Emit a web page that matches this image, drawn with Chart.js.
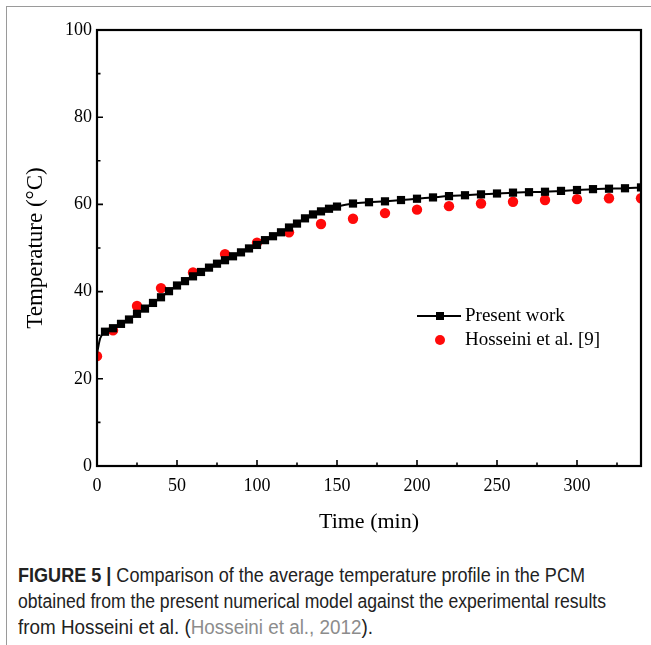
<!DOCTYPE html>
<html><head><meta charset="utf-8">
<script src="https://cdn.jsdelivr.net/npm/chart.js@4.4.0/dist/chart.umd.min.js"></script>
<style>
html,body{margin:0;padding:0;background:#fff;width:651px;height:645px;overflow:hidden;}
#frameTop{position:absolute;left:7px;top:6px;width:644px;height:0;border-top:1.5px solid #9a9a9a;}
#frameLeft{position:absolute;left:6px;top:6px;width:0;height:639px;border-left:1.5px solid #9a9a9a;}
#c{position:absolute;left:0;top:0;}
#cap{position:absolute;left:18px;top:562px;font-family:"Liberation Sans",Arial,sans-serif;font-size:20px;line-height:26px;color:#222;white-space:nowrap;}
#cap span.l{display:inline-block;transform-origin:0 50%;}
#cap b{font-weight:bold;}
.g{color:#8c8c8c;}
</style></head><body>
<div id="frameTop"></div><div id="frameLeft"></div>
<canvas id="c" width="651" height="548"></canvas>
<div id="cap"><span class="l"><b>FIGURE 5 |</b> Comparison of the average temperature profile in the PCM</span><br><span class="l">obtained from the present numerical model against the experimental results</span><br><span class="l">from Hosseini et al. (<span class="g">Hosseini et al., 2012</span>).</span></div>
<script>
// ---- data ----
const presentTime = [0, 2, 5, 10, 15, 20, 25, 30, 35, 40, 45, 50, 55, 60, 65, 70, 75, 80, 85, 90, 95, 100, 105, 110, 115, 120, 125, 130, 135, 140, 145, 150, 160, 170, 180, 190, 200, 210, 220, 230, 240, 250, 260, 270, 280, 290, 300, 310, 320, 330, 340];
const presentTemp = [25.8, 29.3, 30.8, 31.6, 32.6, 33.6, 34.9, 36.1, 37.4, 38.7, 40.1, 41.4, 42.4, 43.5, 44.5, 45.5, 46.4, 47.2, 48.1, 49.0, 49.9, 50.7, 51.8, 52.7, 53.6, 54.7, 55.6, 56.8, 57.7, 58.4, 59.0, 59.5, 60.2, 60.5, 60.7, 61.0, 61.3, 61.6, 61.9, 62.1, 62.3, 62.5, 62.7, 62.8, 62.9, 63.1, 63.3, 63.5, 63.6, 63.7, 63.9];
const hosseiniTime = [0, 10, 25, 40, 60, 80, 100, 120, 140, 160, 180, 200, 220, 240, 260, 280, 300, 320, 340];
const hosseiniTemp = [25.2, 31.1, 36.7, 40.8, 44.4, 48.6, 51.2, 53.6, 55.5, 56.7, 58.0, 58.8, 59.6, 60.2, 60.6, 61.0, 61.2, 61.4, 61.4];
const xMajorTicks = [0, 50, 100, 150, 200, 250, 300];
const xMinorTicks = [25, 75, 125, 175, 225, 275, 325];
const yMajorTicks = [0, 20, 40, 60, 80, 100];
const yMinorTicks = [10, 30, 50, 70, 90];
const seriesLabels = ['Present work', 'Hosseini et al. [9]'];
const xTitle = 'Time (min)';
const yTitle = 'Temperature (\u00B0C)';

const SERIF = '"Liberation Serif","Times New Roman",serif';

// condense each caption line to the reference's narrow face
(function () {
  const targets = [567, 588, 355];
  document.querySelectorAll('#cap span.l').forEach((el, i) => {
    const w = el.getBoundingClientRect().width;
    if (w > 0) el.style.transform = 'scaleX(' + (targets[i] / w) + ')';
  });
})();

const framePlugin = {
  id: 'frameTicks',
  afterDatasetsDraw(chart) {
    const {ctx, chartArea: a, scales: {x, y}} = chart;
    ctx.save();
    ctx.strokeStyle = '#000';
    ctx.lineWidth = 1.6;
    ctx.beginPath();
    for (const v of xMajorTicks) { const px = x.getPixelForValue(v); ctx.moveTo(px, a.bottom); ctx.lineTo(px, a.bottom - 6); }
    for (const v of xMinorTicks) { const px = x.getPixelForValue(v); ctx.moveTo(px, a.bottom); ctx.lineTo(px, a.bottom - 3.5); }
    for (const v of yMajorTicks) { const py = y.getPixelForValue(v); ctx.moveTo(a.left, py); ctx.lineTo(a.left + 6, py); }
    for (const v of yMinorTicks) { const py = y.getPixelForValue(v); ctx.moveTo(a.left, py); ctx.lineTo(a.left + 3.5, py); }
    ctx.stroke();
    ctx.lineWidth = 2.2;
    ctx.strokeRect(a.left, a.top, a.right - a.left, a.bottom - a.top);
    // legend
    const ds = chart.data.datasets;
    const lx = 417, lx2 = 461, mx = 440, ty = 316, ty2 = 340, tx = 465;
    ctx.strokeStyle = ds[0].borderColor; ctx.lineWidth = 2;
    ctx.beginPath(); ctx.moveTo(lx, ty); ctx.lineTo(lx2, ty); ctx.stroke();
    ctx.fillStyle = ds[0].backgroundColor; ctx.fillRect(mx - 4, ty - 4, 8, 8);
    ctx.fillStyle = ds[1].backgroundColor;
    ctx.beginPath(); ctx.arc(mx, ty2, 5, 0, Math.PI * 2); ctx.fill();
    ctx.fillStyle = '#000';
    ctx.font = '19px ' + SERIF;
    ctx.textBaseline = 'middle';
    ctx.fillText(ds[0].label, tx, ty);
    ctx.fillText(ds[1].label, tx, ty2);
    ctx.restore();
  }
};

new Chart(document.getElementById('c'), {
  type: 'line',
  data: {
    datasets: [
      {
        label: seriesLabels[0],
        data: presentTime.map((t, i) => ({x: t, y: presentTemp[i]})),
        borderColor: '#000', backgroundColor: '#000', borderWidth: 2,
        pointStyle: 'rect',
        pointRadius: c => (c.dataIndex < 2 ? 0 : 5.8),
        pointBorderWidth: 0,
        cubicInterpolationMode: 'monotone',
        clip: 0
      },
      {
        label: seriesLabels[1],
        data: hosseiniTime.map((t, i) => ({x: t, y: hosseiniTemp[i]})),
        showLine: false,
        borderColor: '#ff0a0a', backgroundColor: '#ff0a0a',
        pointStyle: 'circle', pointRadius: 5.2, pointBorderWidth: 0,
        clip: 0
      }
    ]
  },
  options: {
    responsive: false, animation: false,
    layout: {padding: {top: 30, right: 10, left: 0, bottom: 0}},
    plugins: {legend: {display: false}, tooltip: {enabled: false}},
    scales: {
      x: {
        type: 'linear', min: 0, max: 340,
        grid: {display: false, drawTicks: false},
        border: {display: false},
        afterBuildTicks: s => { s.ticks = xMajorTicks.map(v => ({value: v})); },
        afterFit: s => { s.height = 82; },
        ticks: {color: '#000', font: {family: SERIF, size: 18}, padding: 9, maxRotation: 0},
        title: {display: true, text: xTitle, color: '#000', font: {family: SERIF, size: 22}, padding: {top: 0, bottom: 13}}
      },
      y: {
        min: 0, max: 100,
        grid: {display: false, drawTicks: false},
        border: {display: false},
        afterBuildTicks: s => { s.ticks = yMajorTicks.map(v => ({value: v})); },
        afterFit: s => { s.width = 97; },
        ticks: {color: '#000', font: {family: SERIF, size: 18}, padding: 5},
        title: {display: true, text: yTitle, color: '#000', font: {family: SERIF, size: 23}, padding: {top: 22, bottom: 0}}
      }
    }
  },
  plugins: [framePlugin]
});
</script>
</body></html>
